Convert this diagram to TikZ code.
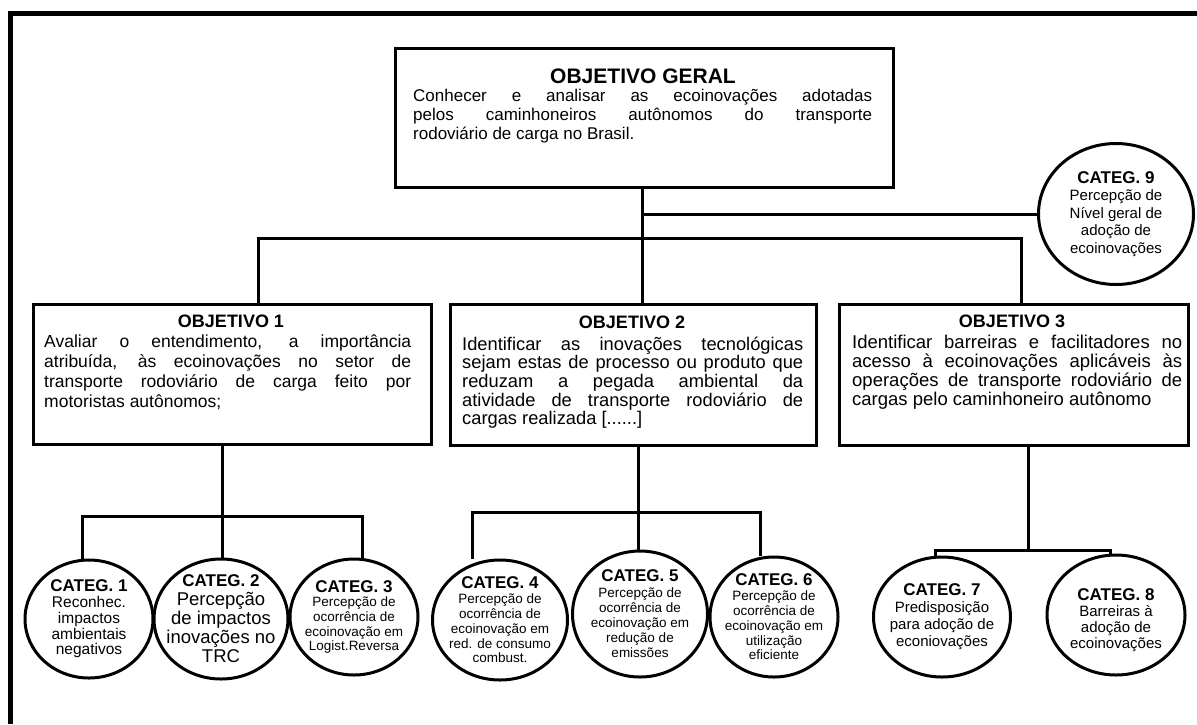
\documentclass[tikz,border=0pt]{standalone}
\usepackage{fontspec}
\setmainfont{Liberation Sans}
\usetikzlibrary{shapes.geometric}
\newcommand{\fsz}[2]{\fontsize{#1}{#2}\selectfont}
\newcommand{\ctitle}[1]{{\fontsize{17}{10}\selectfont\bfseries #1}}
\begin{document}
\begin{tikzpicture}[x=1pt,y=-1pt,
  wire/.style={line width=3pt},
  objbox/.style={draw, line width=3pt, rectangle, inner sep=0pt, anchor=north west},
  boxtitle/.style={anchor=base, inner sep=0pt, font=\fsz{18}{20}\bfseries},
  boxbody/.style={anchor=base west, inner sep=0pt, align=justify},
  categ/.style={draw, ellipse, line width=3pt, inner sep=0pt},
  categtext/.style={inner sep=0pt, align=center}]
\useasboundingbox (0,0) rectangle (1197,724);

% outer frame (left and top edges)
\draw[line width=5pt] (10.5,724) -- (10.5,13.5) -- (1197,13.5);

% general objective
\node[objbox, minimum width=498pt, minimum height=139pt] (g) at (394,47) {};
\node[boxtitle, font=\fsz{21}{20}\bfseries] (gt) at (643,83) {OBJETIVO GERAL};
\node[boxbody, text width=459pt, font=\fsz{17}{19}] (gb) at (413,101)
  {Conhecer e analisar as ecoinovações adotadas\linebreak
   pelos caminhoneiros autônomos do transporte\linebreak
   rodoviário de carga no Brasil.};

% specific objectives
\node[objbox, minimum width=398pt, minimum height=140pt] (o1) at (32,303) {};
\node[boxtitle] (o1t) at (231,327) {OBJETIVO 1};
\node[boxbody, text width=367pt, font=\fsz{17.5}{20}] (o1b) at (44,347)
  {Avaliar o entendimento, a importância\linebreak
   atribuída, às ecoinovações no setor de\linebreak
   transporte rodoviário de carga feito por\linebreak
   motoristas autônomos;};

\node[objbox, minimum width=366pt, minimum height=141pt] (o2) at (449,303) {};
\node[boxtitle] (o2t) at (632,328) {OBJETIVO 2};
\node[boxbody, text width=341pt, font=\fsz{18.3}{18.7}] (o2b) at (462,350)
  {Identificar as inovações tecnológicas\linebreak
   sejam estas de processo ou produto que\linebreak
   reduzam a pegada ambiental da\linebreak
   atividade de transporte rodoviário de\linebreak
   cargas realizada [......]};

\node[objbox, minimum width=349pt, minimum height=141pt] (o3) at (838,303) {};
\node[boxtitle] (o3t) at (1012,327) {OBJETIVO 3};
\node[boxbody, text width=330pt, font=\fsz{18.5}{19.3}] (o3b) at (852,348)
  {Identificar barreiras e facilitadores no\linebreak
   acesso à ecoinovações aplicáveis às\linebreak
   operações de transporte rodoviário de\linebreak
   cargas pelo caminhoneiro autônomo};

% categories: outlines
\node[categ, minimum width=155pt, minimum height=141pt] (c9) at (1116,214) {};
\node[categ, minimum width=128pt, minimum height=118pt] (c1) at (89,619) {};
\node[categ, minimum width=134pt, minimum height=120pt] (c2) at (221,619) {};
\node[categ, minimum width=128pt, minimum height=116pt] (c3) at (354,617) {};
\node[categ, minimum width=135pt, minimum height=120pt] (c4) at (500,620) {};
\node[categ, minimum width=135pt, minimum height=126pt] (c5) at (640,614) {};
\node[categ, minimum width=128pt, minimum height=120pt] (c6) at (774,617) {};
\node[categ, minimum width=137pt, minimum height=120pt] (c7) at (942,617) {};
\node[categ, minimum width=138pt, minimum height=120pt] (c8) at (1116,615) {};

% categories: labels
\node[categtext, font=\fsz{15}{17.5}] (c9t) at (c9)
  {\ctitle{CATEG. 9}\\Percepção de\\Nível geral de\\adoção de\\ecoinovações};
\node[categtext, font=\fsz{15.5}{15.7}] (c1t) at (c1)
  {\ctitle{CATEG. 1}\\Reconhec.\\impactos\\ambientais\\negativos};
\node[categtext, font=\fsz{18.5}{19}] (c2t) at (c2)
  {\ctitle{CATEG. 2}\\Percepção\\de impactos\\inovações no\\TRC};
\node[categtext, font=\fsz{13.5}{14.7}] (c3t) at (c3)
  {\ctitle{CATEG. 3}\\Percepção de\\ocorrência de\\ecoinovação em\\Logist.Reversa};
\node[categtext, font=\fsz{13.5}{14.8}] (c4t) at (c4)
  {\ctitle{CATEG. 4}\\Percepção de\\ocorrência de\\ecoinovação em\\red. de consumo\\combust.};
\node[categtext, font=\fsz{13.5}{15.2}] (c5t) at (c5)
  {\ctitle{CATEG. 5}\\Percepção de\\ocorrência de\\ecoinovação em\\redução de\\emissões};
\node[categtext, font=\fsz{13.5}{14.8}] (c6t) at (c6)
  {\ctitle{CATEG. 6}\\Percepção de\\ocorrência de\\ecoinovação em\\utilização\\eficiente};
\node[categtext, font=\fsz{15}{17}] (c7t) at (c7)
  {\ctitle{CATEG. 7}\\Predisposição\\para adoção de\\econiovações};
\node[categtext, font=\fsz{15}{16}] (c8t) at ([yshift=-5pt]c8)
  {\ctitle{CATEG. 8}\\Barreiras à\\adoção de\\ecoinovações};

% junction points of the tree
\coordinate (jg) at (642,214);
\coordinate (bl) at (258,238);
\coordinate (br) at (1021,238);
\coordinate (a1) at (82,516);
\coordinate (a2) at (222,516);
\coordinate (a3) at (362,516);
\coordinate (b1) at (472,512);
\coordinate (b2) at (638,512);
\coordinate (b3) at (760,512);
\coordinate (d1) at (935,550);
\coordinate (d2) at (1028,550);
\coordinate (d3) at (1110,550);

% connectors from the general objective
\draw[wire] (g.south -| jg) -- (o2.north -| jg);
\draw[wire] (jg) -- (c9.west);
\draw[wire] (o1.north -| bl) -- (bl) -- (br) -- (o3.north -| br);

% objective 1 to its categories
\draw[wire] (o1.south -| a2) -- (c2.north -| a2);
\draw[wire] (c1.north -| a1) -- (a1) -- (a3) -- (c3.north -| a3);

% objective 2 to its categories
\draw[wire] (o2.south -| b2) -- (c5.north -| b2);
\draw[wire] (c4.north -| b1) -- (b1) -- (b3) -- (c6.north -| b3);

% objective 3 to its categories
\draw[wire] (o3.south -| d2) -- (d2);
\draw[wire] (c7.north -| d1) -- (d1) -- (d3) -- (c8.north -| d3);
\end{tikzpicture}
\end{document}
